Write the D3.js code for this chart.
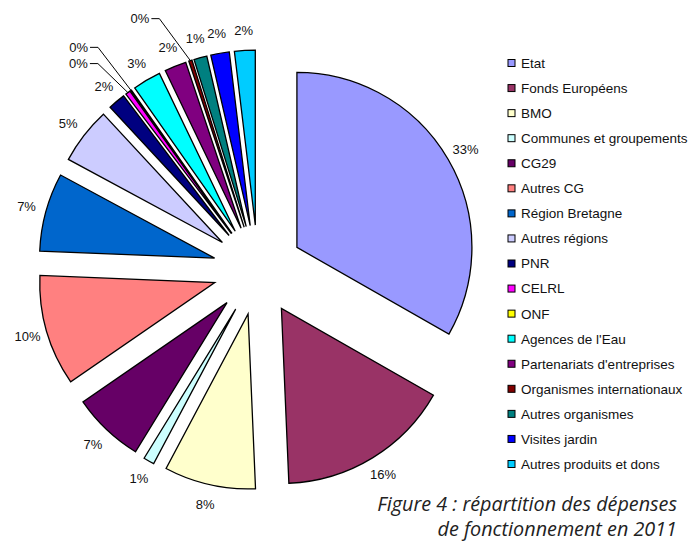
<!DOCTYPE html>
<html>
<head>
<meta charset="utf-8">
<title>Répartition des dépenses</title>
<script src="https://cdnjs.cloudflare.com/ajax/libs/d3/7.8.5/d3.min.js"></script>
<style>
body { margin: 0; padding: 0; background: #fff; overflow: hidden; }
</style>
</head>
<body>
<div id="chart"></div>
<script>
// categories and values (share of the budget)
var categories = ["Etat", "Fonds Européens", "BMO", "Communes et groupements", "CG29",
  "Autres CG", "Région Bretagne", "Autres régions", "PNR", "CELRL", "ONF",
  "Agences de l'Eau", "Partenariats d'entreprises", "Organismes internationaux",
  "Autres organismes", "Visites jardin", "Autres produits et dons"];
var values = [33.1, 16.0, 8.4, 1.0, 6.6, 10.2, 7.2, 5.2, 1.6, 0.45, 0.1, 2.6, 2.0, 0.3, 1.2, 1.7, 1.9];
var colors = ["#9999ff", "#993366", "#ffffcc", "#ccffff", "#660066", "#ff8080", "#0066cc",
  "#ccccff", "#000080", "#ff00ff", "#ffff00", "#00ffff", "#800080", "#800000",
  "#008080", "#0000ff", "#00ccff"];
var captionLines = ["Figure 4 : répartition des dépenses", "de fonctionnement en 2011"];

var width = 692, height = 541;
var cx = 258, cy = 270, radius = 175, explode = 45, labelRadius = 240;
var sans = "'Liberation Sans', Arial, Helvetica, sans-serif";

// small slices get a label pulled out with a leader line (elbow offset from the slice tip)
var leaders = {
  "CELRL": [-30, -29],
  "ONF": [-33, -43],
  "Organismes internationaux": [-31, -42]
};

var svg = d3.select("#chart").append("svg")
  .attr("width", width)
  .attr("height", height);

var total = d3.sum(values);
var data = categories.map(function(c, i) {
  return { name: c, value: values[i], color: colors[i] };
});

var pie = d3.pie().sort(null).value(function(d) { return d.value; });
var arc = d3.arc().innerRadius(0).outerRadius(radius);

var g = svg.append("g").attr("transform", "translate(" + cx + "," + cy + ")");

function dir(d) {
  var a = (d.startAngle + d.endAngle) / 2;
  return [Math.sin(a), -Math.cos(a)];
}

var slices = g.selectAll(".slice")
  .data(pie(data))
  .enter().append("g")
  .attr("class", "slice")
  .attr("transform", function(d) {
    var v = dir(d);
    return "translate(" + v[0] * explode + "," + v[1] * explode + ")";
  });

slices.append("path")
  .attr("d", arc)
  .attr("fill", function(d) { return d.data.color; })
  .attr("stroke", "#000")
  .attr("stroke-width", 1.3)
  .attr("stroke-linejoin", "miter");

// percentage labels
pie(data).forEach(function(d) {
  var v = dir(d);
  var txt = Math.round(d.data.value / total * 100) + "%";
  var lead = leaders[d.data.name];
  var t;
  if (lead) {
    var tip = [v[0] * (radius + explode), v[1] * (radius + explode)];
    var elbow = [tip[0] + lead[0], tip[1] + lead[1]];
    g.append("polyline")
      .attr("points", [tip, elbow, [elbow[0] - 8, elbow[1]]].map(function(p) { return p.join(","); }).join(" "))
      .attr("fill", "none")
      .attr("stroke", "#000")
      .attr("stroke-width", 1);
    t = g.append("text")
      .attr("x", elbow[0] - 10)
      .attr("y", elbow[1])
      .attr("text-anchor", "end");
  } else {
    t = g.append("text")
      .attr("x", v[0] * labelRadius)
      .attr("y", v[1] * labelRadius)
      .attr("text-anchor", "middle");
  }
  t.attr("dy", "0.35em")
    .attr("font-family", sans)
    .attr("font-size", 13)
    .attr("fill", "#111")
    .text(txt);
});

// legend
var legendY = d3.scalePoint().domain(categories).range([63, 464]);
var legend = svg.append("g").selectAll("g")
  .data(data)
  .enter().append("g")
  .attr("transform", function(d) { return "translate(508," + legendY(d.name) + ")"; });

legend.append("rect")
  .attr("x", 0).attr("y", -3.5)
  .attr("width", 7).attr("height", 7)
  .attr("fill", function(d) { return d.color; })
  .attr("stroke", "#000")
  .attr("stroke-width", 1);

legend.append("text")
  .attr("x", 13)
  .attr("dy", "0.36em")
  .attr("font-family", sans)
  .attr("font-size", 13.5)
  .attr("fill", "#111")
  .text(function(d) { return d.name; });

// caption
svg.append("g").selectAll("text")
  .data(captionLines)
  .enter().append("text")
  .attr("x", 677)
  .attr("y", function(d, i) { return 511 + i * 25; })
  .attr("text-anchor", "end")
  .attr("font-family", "'Open Sans', Lato, sans-serif")
  .attr("font-style", "italic")
  .attr("font-size", 19.8)
  .attr("fill", "#222")
  .text(function(d) { return d; });
</script>
</body>
</html>
